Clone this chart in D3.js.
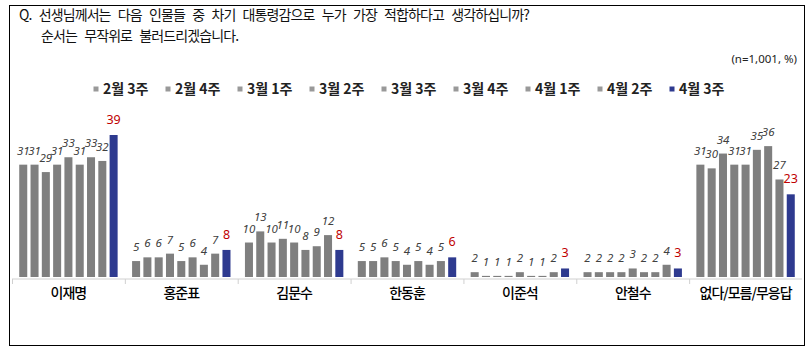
<!DOCTYPE html>
<html>
<head>
<meta charset="utf-8">
<script src="https://cdn.jsdelivr.net/npm/d3@7/dist/d3.min.js"></script>
<style>
  html, body { margin: 0; padding: 0; background: #fff; }
  svg { display: block; }
  text { font-family: "Noto Sans CJK KR", "Noto Sans", sans-serif; }
</style>
</head>
<body>
<svg id="chart" width="812" height="354"></svg>
<script>
const categories = ["이재명", "홍준표", "김문수", "한동훈", "이준석", "안철수", "없다/모름/무응답"];
const weeks = ["2월 3주", "2월 4주", "3월 1주", "3월 2주", "3월 3주", "3월 4주", "4월 1주", "4월 2주", "4월 3주"];
const feb3 = [31, 5, 10, 5, 2, 2, 31];
const feb4 = [31, 6, 13, 5, 1, 2, 30];
const mar1 = [29, 6, 10, 6, 1, 2, 34];
const mar2 = [31, 7, 11, 5, 1, 2, 31];
const mar3 = [33, 5, 10, 4, 2, 3, 31];
const mar4 = [31, 6, 8, 5, 1, 2, 35];
const apr1 = [33, 4, 9, 4, 1, 2, 36];
const apr2 = [32, 7, 12, 5, 2, 4, 27];
const apr3 = [39, 8, 8, 6, 3, 3, 23];
const seriesValues = [feb3, feb4, mar1, mar2, mar3, mar4, apr1, apr2, apr3];

const titleLine1 = "Q. 선생님께서는 다음 인물들 중 차기 대통령감으로 누가 가장 적합하다고 생각하십니까?";
const titleLine2 = "순서는 무작위로 불러드리겠습니다.";
const noteText = "(n=1,001, %)";

const GRAY = "#7f7f7f";
const NAVY = "#2e3a8f";
const RED = "#c00000";

const svg = d3.select("#chart");

// frame
svg.append("rect").attr("x", 9.5).attr("y", 5.5).attr("width", 795).attr("height", 340)
  .attr("fill", "none").attr("stroke", "#000").attr("stroke-width", 1);

// titles
svg.append("text").attr("x", 19).attr("y", 20).text(titleLine1)
  .attr("font-size", 14).attr("letter-spacing", "-0.9px").attr("word-spacing", "5px").attr("fill", "#111");
svg.append("text").attr("x", 41).attr("y", 41).text(titleLine2)
  .attr("font-size", 14).attr("letter-spacing", "-0.9px").attr("word-spacing", "5px").attr("fill", "#111");
svg.append("text").attr("x", 797).attr("y", 63).attr("text-anchor", "end").text(noteText)
  .attr("font-size", 11.5).attr("fill", "#222").style("font-family", "'Noto Sans', sans-serif");

// legend
const legendX = d3.scalePoint().domain(weeks).range([96, 96 + 72 * 8]);
const lg = svg.append("g").selectAll("g").data(weeks).join("g")
  .attr("transform", d => `translate(${legendX(d)},89)`);
lg.append("rect").attr("x", -2.5).attr("y", -2.5).attr("width", 5).attr("height", 5)
  .attr("fill", (d, i) => i === weeks.length - 1 ? NAVY : "#999");
lg.append("text").attr("x", 7).attr("y", 5).text(d => d)
  .attr("font-size", 14).attr("font-weight", "bold").attr("fill", "#222");

// scales
const x0 = d3.scaleBand().domain(categories).range([12, 802]).paddingInner(0).paddingOuter(0);
const x1 = d3.scaleBand().domain(weeks).range([0, x0.bandwidth()]).paddingInner(0.29).paddingOuter(0.64);
const y = d3.scaleLinear().domain([0.7, 39]).range([277, 135]);

// axis
const axis = d3.axisBottom(x0).tickSize(0).tickFormat("");
const axG = svg.append("g").attr("transform", "translate(0,279)").call(axis);
axG.select(".domain").attr("stroke", "#d0d0d0").attr("d", "M12,0H802");
// boundary ticks
svg.append("g").selectAll("line").data(d3.range(categories.length))
  .join("line")
  .attr("x1", i => x0(categories[i]) + 0.5).attr("x2", i => x0(categories[i]) + 0.5)
  .attr("y1", 279).attr("y2", 284).attr("stroke", "#d0d0d0");

// category labels
svg.append("g").selectAll("text").data(categories).join("text")
  .attr("x", d => x0(d) + x0.bandwidth() / 2).attr("y", 298)
  .attr("text-anchor", "middle").text(d => d)
  .attr("font-size", 14).attr("letter-spacing", "-1px").attr("font-weight", 500).attr("fill", "#000");

// bars
const groups = svg.append("g").selectAll("g").data(categories).join("g")
  .attr("transform", d => `translate(${x0(d)},0)`);

groups.each(function(cat, ci) {
  const g = d3.select(this);
  const data = weeks.map((w, wi) => ({ w, wi, v: seriesValues[wi][ci] }));
  g.selectAll("rect").data(data).join("rect")
    .attr("x", d => x1(d.w)).attr("width", x1.bandwidth())
    .attr("y", d => y(d.v)).attr("height", d => Math.max(0, y(0.7) - y(d.v)))
    .attr("fill", d => d.wi === weeks.length - 1 ? NAVY : GRAY);
  g.selectAll("text").data(data).join("text")
    .attr("x", d => x1(d.w) + x1.bandwidth() / 2)
    .attr("y", d => y(d.v) - (d.wi === weeks.length - 1 ? 11 : 10))
    .attr("text-anchor", "middle")
    .text(d => d.v)
    .style("font-family", "'Noto Sans', sans-serif")
    .attr("font-size", d => d.wi === weeks.length - 1 ? 12.5 : 11.5)
    .attr("font-style", d => d.wi === weeks.length - 1 ? "normal" : "italic")
    .attr("fill", d => d.wi === weeks.length - 1 ? RED : "#404040");
});
</script>
</body>
</html>
